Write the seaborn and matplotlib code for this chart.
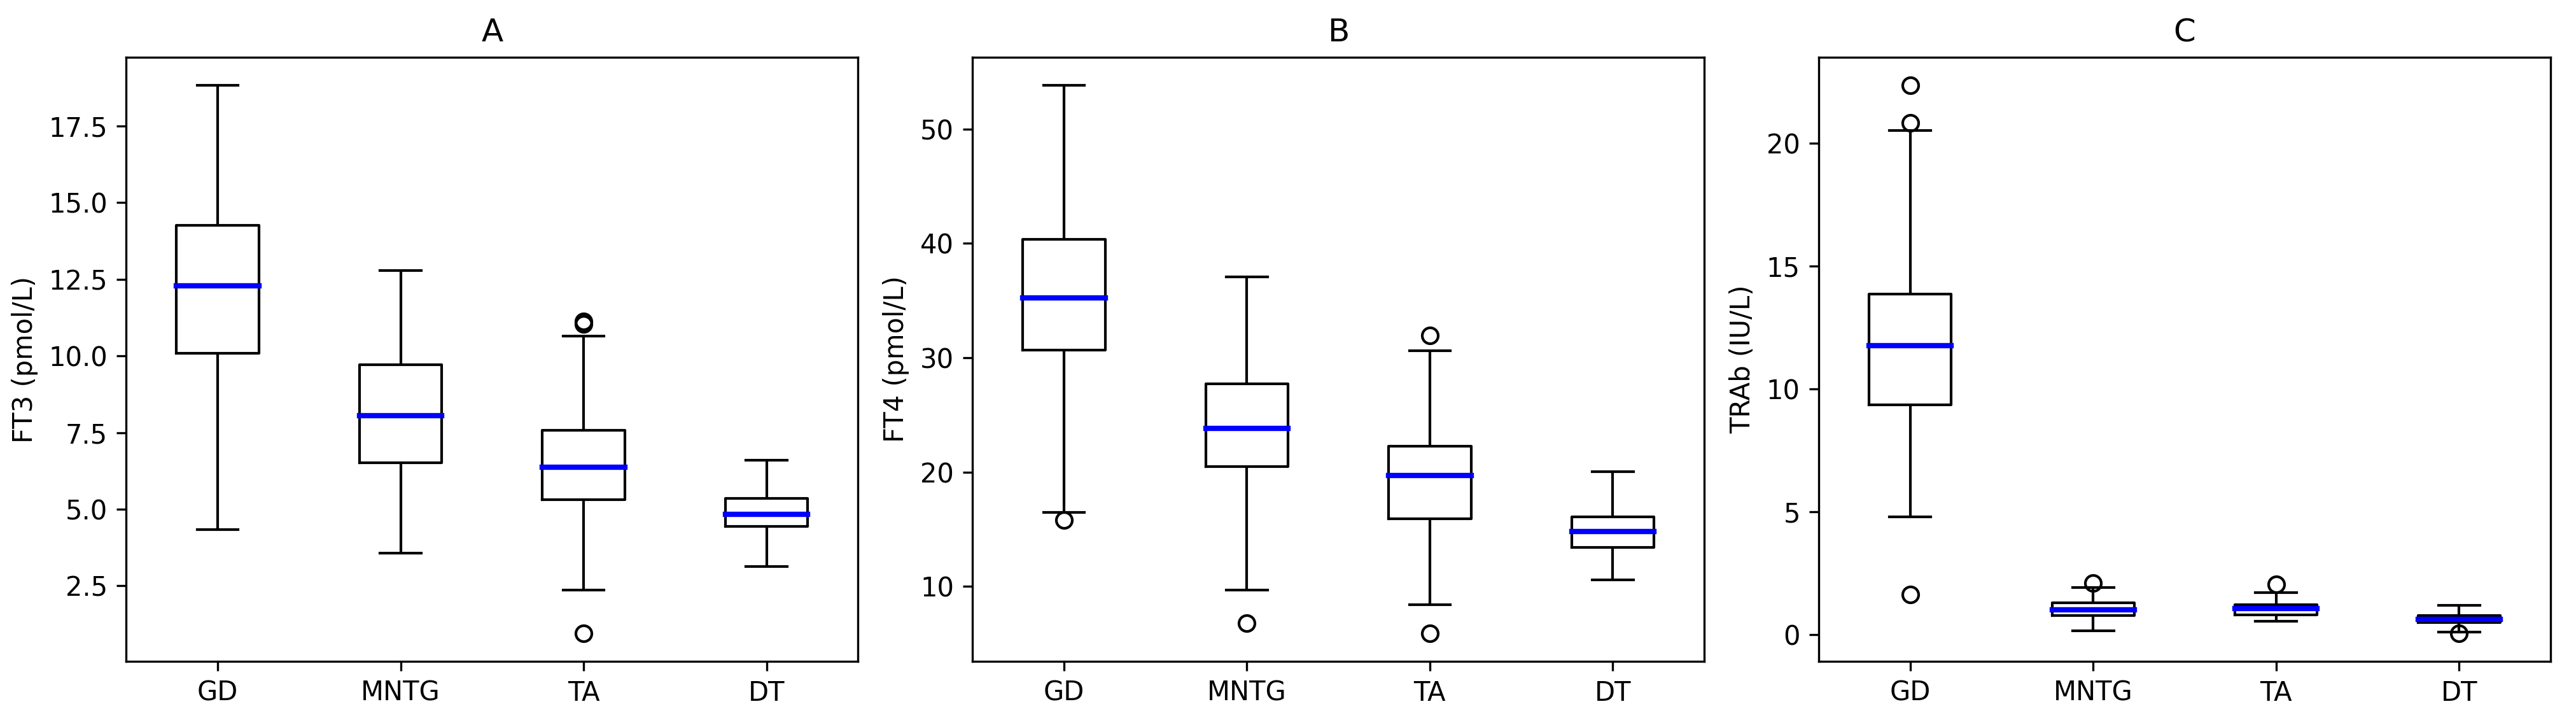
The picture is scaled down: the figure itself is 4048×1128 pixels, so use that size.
import numpy as np
import pandas as pd
import matplotlib
matplotlib.use("Agg")
import matplotlib.pyplot as plt
import seaborn as sns

groups = ["GD", "MNTG", "TA", "DT"]

# Panel A: FT3 (pmol/L)
ft3_lo = [4.34, 3.57, 2.36, 3.14]
ft3_q1 = [10.08, 6.51, 5.31, 4.44]
ft3_med = [12.28, 8.05, 6.36, 4.83]
ft3_q3 = [14.26, 9.71, 7.58, 5.35]
ft3_hi = [18.84, 12.78, 10.65, 6.59]
ft3_out = [[], [], [0.94, 11.05, 11.12], []]

# Panel B: FT4 (pmol/L)
ft4_lo = [16.45, 9.69, 8.41, 10.55]
ft4_q1 = [30.69, 20.45, 15.90, 13.41]
ft4_med = [35.24, 23.83, 19.69, 14.79]
ft4_q3 = [40.38, 27.72, 22.28, 16.07]
ft4_hi = [53.86, 37.07, 30.59, 20.03]
ft4_out = [[15.79], [6.76], [5.86, 31.97], []]

# Panel C: TRAb (IU/L)
trab_lo = [4.79, 0.16, 0.54, 0.10]
trab_q1 = [9.35, 0.78, 0.80, 0.49]
trab_med = [11.78, 1.01, 1.06, 0.62]
trab_q3 = [13.87, 1.29, 1.22, 0.78]
trab_hi = [20.52, 1.91, 1.71, 1.19]
trab_out = [[1.63, 20.85, 22.38], [2.10], [2.05], [0.04]]

titles = ["A", "B", "C"]
ylabels = ["FT3 (pmol/L)", "FT4 (pmol/L)", "TRAb (IU/L)"]


def observations(lo, q1, med, q3, hi, out):
    rows = []
    for g, a, b, c, d, e, o in zip(groups, lo, q1, med, q3, hi, out):
        low_o = sorted(v for v in o if v < c)
        high_o = sorted(v for v in o if v > c)
        k = max(len(low_o), len(high_o)) + 1
        vals = (low_o + [a] * (k - len(low_o)) + [b] + [c] * (2 * k - 1)
                + [d] + [e] * (k - len(high_o)) + high_o)
        rows += [(g, v) for v in vals]
    return pd.DataFrame(rows, columns=["group", "value"])


panels = [
    observations(ft3_lo, ft3_q1, ft3_med, ft3_q3, ft3_hi, ft3_out),
    observations(ft4_lo, ft4_q1, ft4_med, ft4_q3, ft4_hi, ft4_out),
    observations(trab_lo, trab_q1, trab_med, trab_q3, trab_hi, trab_out),
]

plt.rcParams["font.family"] = ["DejaVu Sans"]
fig, axes = plt.subplots(1, 3, figsize=(4048 / 300, 1128 / 300), dpi=300)
fig.subplots_adjust(left=0.0490, right=0.9901, bottom=0.0793, top=0.9198,
                    wspace=0.1565)

for ax, df, t, yl in zip(axes, panels, titles, ylabels):
    sns.boxplot(
        data=df, x="group", y="value", order=groups, ax=ax,
        fill=False, color="black", width=0.45, linewidth=1.0, whis=1.5,
        medianprops=dict(color="blue", linewidth=2.0, solid_capstyle="projecting"),
        flierprops=dict(marker="o", markersize=6, markerfacecolor="none",
                        markeredgecolor="black", markeredgewidth=1.0),
    )
    ax.set_title(t, fontsize=12)
    ax.set_xlabel("")
    ax.set_ylabel(yl, fontsize=10)
    ax.tick_params(labelsize=10)
    for s in ax.spines.values():
        s.set_visible(True)
        s.set_color("black")
        s.set_linewidth(0.8)

fig.savefig("out.png", dpi=300)
